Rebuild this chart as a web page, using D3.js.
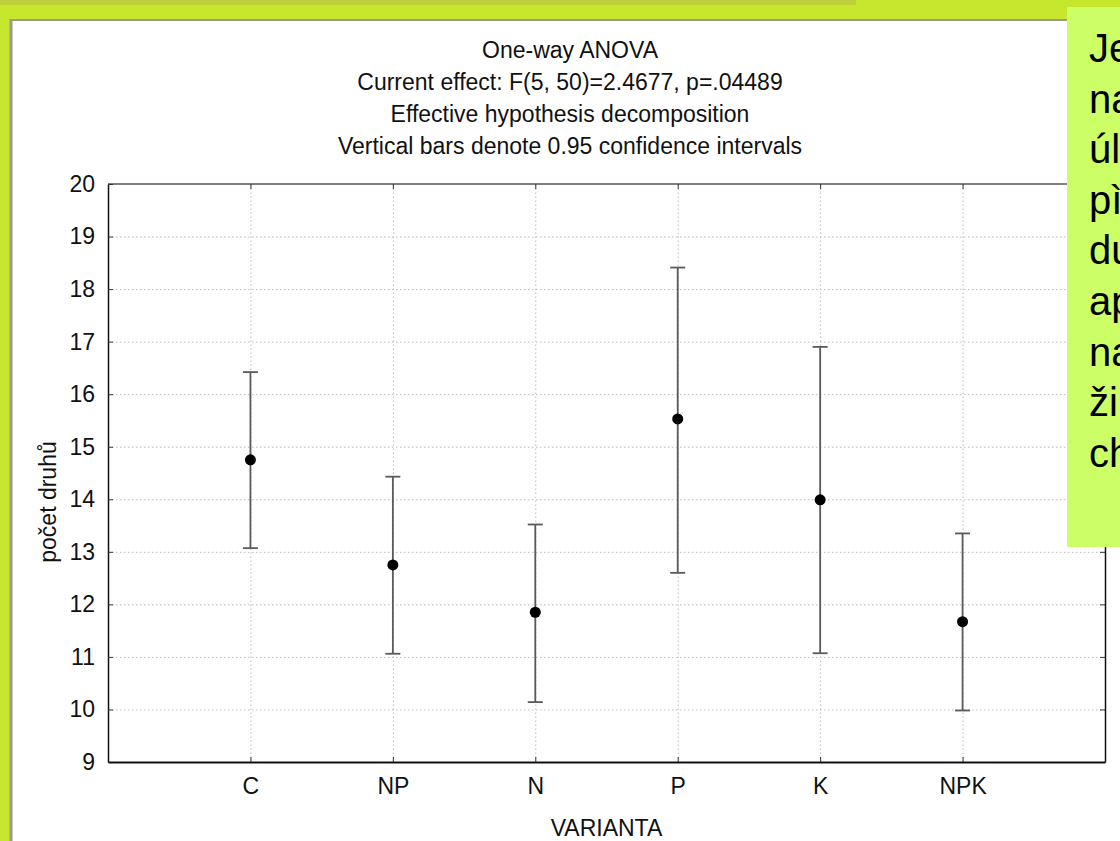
<!DOCTYPE html>
<html>
<head>
<meta charset="utf-8">
<title>One-way ANOVA</title>
<script src="https://cdn.jsdelivr.net/npm/d3@7"></script>
<style>
  html, body { margin: 0; padding: 0; background: #c6e72e; }
  svg { display: block; font-family: "Liberation Sans", Arial, sans-serif; }
</style>
</head>
<body>
<svg width="1120" height="841"></svg>
<script>
// data
var categories = ["C", "NP", "N", "P", "K", "NPK"];
var means = [14.75, 12.75, 11.85, 15.53, 13.99, 11.67];
var upper = [16.42, 14.43, 13.52, 18.41, 16.90, 13.35];
var lower = [13.07, 11.06, 10.14, 12.60, 11.07, 9.98];
var yTicks = [9, 10, 11, 12, 13, 14, 15, 16, 17, 18, 19, 20];
var titleLines = [
  "One-way ANOVA",
  "Current effect: F(5, 50)=2.4677, p=.04489",
  "Effective hypothesis decomposition",
  "Vertical bars denote 0.95 confidence intervals"
];
var sideText = ["Je", "na", "úl", "pì", "du", "ap", "na", "ži", "ch"];

var svg = d3.select("svg");

// slide background bits
svg.append("rect").attr("x", 0).attr("y", 0).attr("width", 1120).attr("height", 841).attr("fill", "#c6e72e");
svg.append("rect").attr("x", 0).attr("y", 0).attr("width", 856).attr("height", 5).attr("fill", "#bdcf3a");
svg.append("rect").attr("x", 10).attr("y", 19).attr("width", 1110).attr("height", 830)
   .attr("fill", "#fff");
svg.append("line").attr("x1", 11).attr("x2", 11).attr("y1", 19).attr("y2", 841)
   .attr("stroke", "#9a9a8a").attr("stroke-width", 3);
svg.append("line").attr("x1", 10).attr("x2", 1120).attr("y1", 20).attr("y2", 20)
   .attr("stroke", "#9a9a8a").attr("stroke-width", 2);

var pL = 108, pR = 1105, pT = 184, pB = 762;

var x = d3.scalePoint().domain(categories).range([pL, pR]).padding(1);
var y = d3.scaleLinear().domain([9, 20]).range([pB, pT]);

// grid
svg.append("g")
   .attr("transform", "translate(0," + pB + ")")
   .call(d3.axisBottom(x).tickSize(-(pB - pT)).tickFormat(""))
   .call(function (g) {
     g.select(".domain").remove();
     g.selectAll("line").attr("stroke", "#bbb").attr("stroke-dasharray", "1.5,2.5");
   });
svg.append("g")
   .attr("transform", "translate(" + pL + ",0)")
   .call(d3.axisLeft(y).tickValues(yTicks.slice(1, -1)).tickSize(-(pR - pL)).tickFormat(""))
   .call(function (g) {
     g.select(".domain").remove();
     g.selectAll("line").attr("stroke", "#bbb").attr("stroke-dasharray", "1.5,2.5");
   });

// frame top
svg.append("line").attr("x1", pL).attr("x2", pR).attr("y1", pT).attr("y2", pT)
   .attr("stroke", "#808080").attr("stroke-width", 2);

// axes
function styleAxis(g) {
  g.select(".domain").attr("stroke", "#111").attr("stroke-width", 1.5);
  g.selectAll(".tick line").attr("stroke", "#333").attr("stroke-width", 1);
  g.selectAll("text").attr("font-size", "23px").attr("fill", "#111")
   .attr("font-family", "'Liberation Sans', Arial, sans-serif");
}
svg.append("g")
   .attr("transform", "translate(" + pL + ",0)")
   .call(d3.axisLeft(y).tickValues(yTicks).tickSizeInner(-5).tickSizeOuter(0).tickPadding(13))
   .call(styleAxis);
svg.append("g")
   .attr("transform", "translate(" + pR + ",0)")
   .call(d3.axisRight(y).tickValues(yTicks).tickSizeInner(-5).tickSizeOuter(0).tickFormat(""))
   .call(styleAxis);
svg.append("g")
   .attr("transform", "translate(0," + pB + ")")
   .call(d3.axisBottom(x).tickSizeInner(-5).tickSizeOuter(0).tickPadding(16))
   .call(styleAxis)
   .call(function (g) { g.select(".domain").attr("stroke-width", 2); });
svg.append("g")
   .attr("transform", "translate(0," + pT + ")")
   .call(d3.axisTop(x).tickSizeInner(-5).tickSizeOuter(0).tickFormat(""))
   .call(function (g) {
     g.select(".domain").remove();
     g.selectAll(".tick line").attr("stroke", "#333");
   });

// error bars
var rows = categories.map(function (c, i) {
  return { c: c, m: means[i], hi: upper[i], lo: lower[i] };
});
var bars = svg.append("g").attr("stroke", "#5a5a5a").attr("stroke-width", 1.8);
bars.selectAll(".v").data(rows).enter().append("line")
    .attr("x1", function (d) { return x(d.c); })
    .attr("x2", function (d) { return x(d.c); })
    .attr("y1", function (d) { return y(d.hi); })
    .attr("y2", function (d) { return y(d.lo); });
bars.selectAll(".hi").data(rows).enter().append("line")
    .attr("x1", function (d) { return x(d.c) - 7.5; })
    .attr("x2", function (d) { return x(d.c) + 7.5; })
    .attr("y1", function (d) { return y(d.hi); })
    .attr("y2", function (d) { return y(d.hi); });
bars.selectAll(".lo").data(rows).enter().append("line")
    .attr("x1", function (d) { return x(d.c) - 7.5; })
    .attr("x2", function (d) { return x(d.c) + 7.5; })
    .attr("y1", function (d) { return y(d.lo); })
    .attr("y2", function (d) { return y(d.lo); });
svg.append("g").selectAll("circle").data(rows).enter().append("circle")
   .attr("cx", function (d) { return x(d.c); })
   .attr("cy", function (d) { return y(d.m); })
   .attr("r", 5.5)
   .attr("fill", "#000");

// titles
svg.append("g").selectAll("text").data(titleLines).enter().append("text")
   .attr("x", 570)
   .attr("y", function (d, i) { return 57.5 + i * 32; })
   .attr("text-anchor", "middle")
   .attr("font-size", "23px")
   .attr("fill", "#111")
   .text(function (d) { return d; });

svg.append("text")
   .attr("x", (pL + pR) / 2).attr("y", 836)
   .attr("text-anchor", "middle").attr("font-size", "23px").attr("fill", "#111")
   .text("VARIANTA");
svg.append("text")
   .attr("transform", "translate(56,502) rotate(-90)")
   .attr("text-anchor", "middle").attr("font-size", "23px").attr("fill", "#111")
   .text("počet druhů");

// green text box on the right
svg.append("rect").attr("x", 1067).attr("y", 7).attr("width", 60).attr("height", 540)
   .attr("fill", "#ccff66");
svg.append("g").selectAll("text").data(sideText).enter().append("text")
   .attr("x", 1089)
   .attr("y", function (d, i) { return 62 + i * 50.6; })
   .attr("font-size", "40px")
   .attr("fill", "#000")
   .text(function (d) { return d; });
</script>
</body>
</html>
